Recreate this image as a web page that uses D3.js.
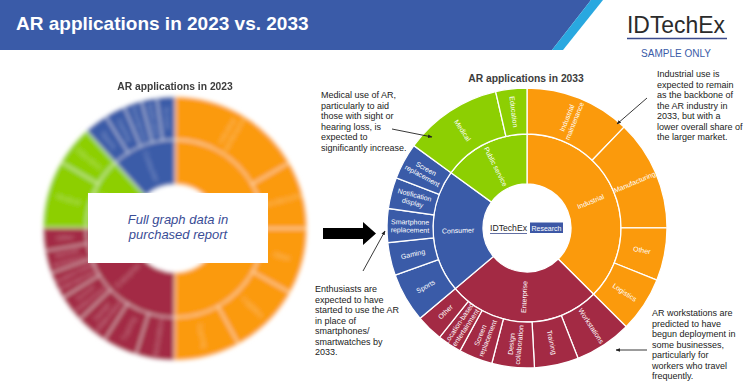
<!DOCTYPE html>
<html>
<head>
<meta charset="utf-8">
<script src="https://cdn.jsdelivr.net/npm/d3@7"></script>
<style>
  body { margin: 0; background: #fff; }
  svg { display: block; font-family: "Liberation Sans", Arial, sans-serif; }
</style>
</head>
<body>
<div id="chart"></div>
<script>
// sectors (inner ring), same for both years
const sectors = ["Industrial", "Enterprise", "Consumer", "Public service"];
const sectorColors = ["#fb9a0c", "#a32a44", "#3a5ba8", "#8dcf02"];

// 2033 applications (outer ring), share of market in %
const apps2033 = ["Industrial\nmaintenance", "Manufacturing", "Other", "Logistics",
  "Workstations", "Training", "Design\ncollaboration", "Screen\nreplacement",
  "Location-based\nentertainment", "Other",
  "Sports", "Gaming", "Smartphone\nreplacement", "Notification\ndisplay", "Screen\nreplacement",
  "Medical", "Education"];
const appSector2033 = [0, 0, 0, 0, 1, 1, 1, 1, 1, 1, 2, 2, 2, 2, 2, 3, 3];
const share2033 = [12.2, 12.8, 6.1, 6.4, 6.6, 5.1, 4.9, 3.9, 2.8, 3.1, 5.7, 3.8, 3.9, 3.6, 4.2, 11.4, 3.6];

// 2023 applications (blurred in the sample, estimated)
const apps2023 = ["Industrial\nmaintenance", "Manufacturing", "Other", "Logistics", "Training",
  "Workstations", "Training", "Design\ncollaboration", "Screen\nreplacement",
  "Location-based\nentertainment", "Remote\nassistance", "Other",
  "Medical", "Education",
  "Sports", "Gaming", "Smartphone", "Notification", "Screen"];
const appSector2023 = [0, 0, 0, 0, 0, 1, 1, 1, 1, 1, 1, 1, 3, 3, 2, 2, 2, 2, 2];
const share2023 = [16.7, 8.3, 8.1, 8.9, 8.1, 4.7, 4.2, 3.9, 3.3, 3.3, 2.8, 2.8, 8.3, 4.9, 2.9, 2.5, 2.2, 1.9, 2.2];
const sectorOrder2023 = [0, 1, 3, 2];

// annotations
const noteIndustrial = ["Industrial use is", "expected to remain", "as the backbone of",
  "the AR industry in", "2033, but with a", "lower overall share of", "the larger market."];
const noteMedical = ["Medical use of AR,", "particularly to aid", "those with sight or",
  "hearing loss, is", "expected to", "significantly increase."];
const noteConsumer = ["Enthusiasts are", "expected to have", "started to use the AR",
  "in place of", "smartphones/", "smartwatches by", "2033."];
const noteWork = ["AR workstations are", "predicted to have", "begun deployment in",
  "some businesses,", "particularly for", "workers who travel", "frequently."];

const W = 752, H = 388;
const svg = d3.select("#chart").append("svg").attr("width", W).attr("height", H);

const defs = svg.append("defs");
defs.append("filter").attr("id", "blur").attr("x", "-10%").attr("y", "-10%")
  .attr("width", "120%").attr("height", "120%")
  .append("feGaussianBlur").attr("stdDeviation", 2.2);
defs.append("filter").attr("id", "blurSoft")
  .append("feGaussianBlur").attr("stdDeviation", 0.6);
defs.append("marker").attr("id", "head").attr("viewBox", "0 0 10 10")
  .attr("refX", 9).attr("refY", 5).attr("markerWidth", 5).attr("markerHeight", 5)
  .attr("orient", "auto")
  .append("path").attr("d", "M0,1 L10,5 L0,9 Z").attr("fill", "#222");

// header band
svg.append("polygon").attr("points", "0,0 591,0 552,50 0,50").attr("fill", "#3a5ba8");
svg.append("polygon").attr("points", "591,0 603,0 563,50 552,50").attr("fill", "#29a8e0");
svg.append("text").attr("x", 16).attr("y", 30).attr("fill", "#fff")
  .attr("font-size", 19).attr("font-weight", "bold").text("AR applications in 2023 vs. 2033");

// logo
svg.append("text").attr("x", 627).attr("y", 33).attr("fill", "#2b2b2b")
  .attr("font-size", 24).attr("textLength", 98).attr("lengthAdjust", "spacingAndGlyphs")
  .text("IDTechEx");
svg.append("line").attr("x1", 627).attr("x2", 727).attr("y1", 38.5).attr("y2", 38.5)
  .attr("stroke", "#3a4a8c").attr("stroke-width", 1.6);
svg.append("text").attr("x", 676).attr("y", 57).attr("text-anchor", "middle")
  .attr("fill", "#3a5ba8").attr("font-size", 10).text("SAMPLE ONLY");

function buildRoot(apps, appSector, share, order) {
  const data = {
    name: "root",
    children: order.map(i => ({
      name: sectors[i], sector: i,
      children: apps.map((a, j) => ({ name: a, value: share[j], sector: appSector[j] }))
        .filter(d => d.sector === i)
    }))
  };
  return d3.partition().size([2 * Math.PI, 1])(d3.hierarchy(data).sum(d => d.children ? 0 : d.value));
}

const color = d3.scaleOrdinal().domain(d3.range(4)).range(sectorColors);

function drawSunburst(g, root, rings) {
  const arc = d3.arc()
    .startAngle(d => d.x0).endAngle(d => d.x1)
    .innerRadius(d => rings[d.depth - 1]).outerRadius(d => rings[d.depth]);
  const nodes = root.descendants().filter(d => d.depth > 0);

  g.selectAll("path").data(nodes).join("path")
    .attr("d", arc)
    .attr("fill", d => color(d.data.sector))
    .attr("stroke", "#fff").attr("stroke-width", 1.3);

  const lab = g.selectAll("text").data(nodes).join("text")
    .attr("transform", d => {
      const a = (d.x0 + d.x1) / 2 * 180 / Math.PI;
      const r = (rings[d.depth - 1] + rings[d.depth]) / 2;
      return `rotate(${a - 90}) translate(${r},0) rotate(${a < 180 ? 0 : 180})`;
    })
    .attr("text-anchor", "middle")
    .attr("fill", "#fff").attr("font-size", 7);
  lab.each(function (d) {
    const lines = d.data.name.split("\n");
    d3.select(this).selectAll("tspan").data(lines).join("tspan")
      .attr("x", 0)
      .attr("dy", (l, i) => i === 0 ? (2.5 - (lines.length - 1) * 4) + "px" : "8px")
      .text(l => l);
  });
}

// 2023 (blurred)
const left = svg.append("g").attr("transform", "translate(175,228.5)").attr("filter", "url(#blur)");
drawSunburst(left, buildRoot(apps2023, appSector2023, share2023, sectorOrder2023), [44, 89, 132]);
left.selectAll("text").attr("fill-opacity", 0.4);
left.selectAll("path").attr("stroke-opacity", 0.6);
svg.append("text").attr("x", 175).attr("y", 90).attr("text-anchor", "middle")
  .attr("font-size", 10.3).attr("font-weight", "bold").attr("fill", "#3c3c3c")
  .attr("filter", "url(#blurSoft)").text("AR applications in 2023");

svg.append("rect").attr("x", 88).attr("y", 193).attr("width", 180).attr("height", 70).attr("fill", "#fff");
svg.append("text").attr("x", 178).attr("y", 224).attr("text-anchor", "middle")
  .attr("font-size", 13).attr("font-style", "italic").attr("fill", "#3a4d96")
  .selectAll("tspan").data(["Full graph data in", "purchased report"]).join("tspan")
  .attr("x", 178).attr("dy", (d, i) => i ? 15 : 0).text(d => d);

// 2033
const right = svg.append("g").attr("transform", "translate(527,228)");
drawSunburst(right, buildRoot(apps2033, appSector2033, share2033, [0, 1, 2, 3]), [44, 94, 140]);
svg.append("text").attr("x", 526).attr("y", 82).attr("text-anchor", "middle")
  .attr("font-size", 10.3).attr("font-weight", "bold").attr("fill", "#3c3c3c")
  .text("AR applications in 2033");

// centre logo
svg.append("text").attr("x", 490).attr("y", 231).attr("font-size", 8.6).attr("fill", "#222")
  .attr("textLength", 37).attr("lengthAdjust", "spacingAndGlyphs").text("IDTechEx");
svg.append("line").attr("x1", 490).attr("x2", 527).attr("y1", 233.5).attr("y2", 233.5)
  .attr("stroke", "#3a4a8c").attr("stroke-width", 0.8);
svg.append("rect").attr("x", 530).attr("y", 222.5).attr("width", 33).attr("height", 10.5).attr("fill", "#3d58a6");
svg.append("text").attr("x", 546.5).attr("y", 230.5).attr("text-anchor", "middle")
  .attr("font-size", 7).attr("fill", "#fff").text("Research");

// big arrow between the charts
svg.append("path").attr("d", "M323,228 L363,228 L363,222 L376,233.5 L363,245 L363,239 L323,239 Z")
  .attr("fill", "#000");

// notes
function note(x, y, lines) {
  svg.append("text").attr("x", x).attr("y", y).attr("font-size", 9).attr("fill", "#222")
    .selectAll("tspan").data(lines).join("tspan")
    .attr("x", x).attr("dy", (d, i) => i ? 10.5 : 0).text(d => d);
}
note(657, 77, noteIndustrial);
note(321, 98, noteMedical);
note(315, 292, noteConsumer);
note(652, 316, noteWork);

function pointer(x1, y1, x2, y2) {
  svg.append("line").attr("x1", x1).attr("y1", y1).attr("x2", x2).attr("y2", y2)
    .attr("stroke", "#222").attr("stroke-width", 0.9).attr("marker-end", "url(#head)");
}
pointer(647, 98, 617, 124);
pointer(392, 129, 432, 137);
pointer(363, 271, 385, 231);
pointer(647, 350, 616, 350);
</script>
</body>
</html>
